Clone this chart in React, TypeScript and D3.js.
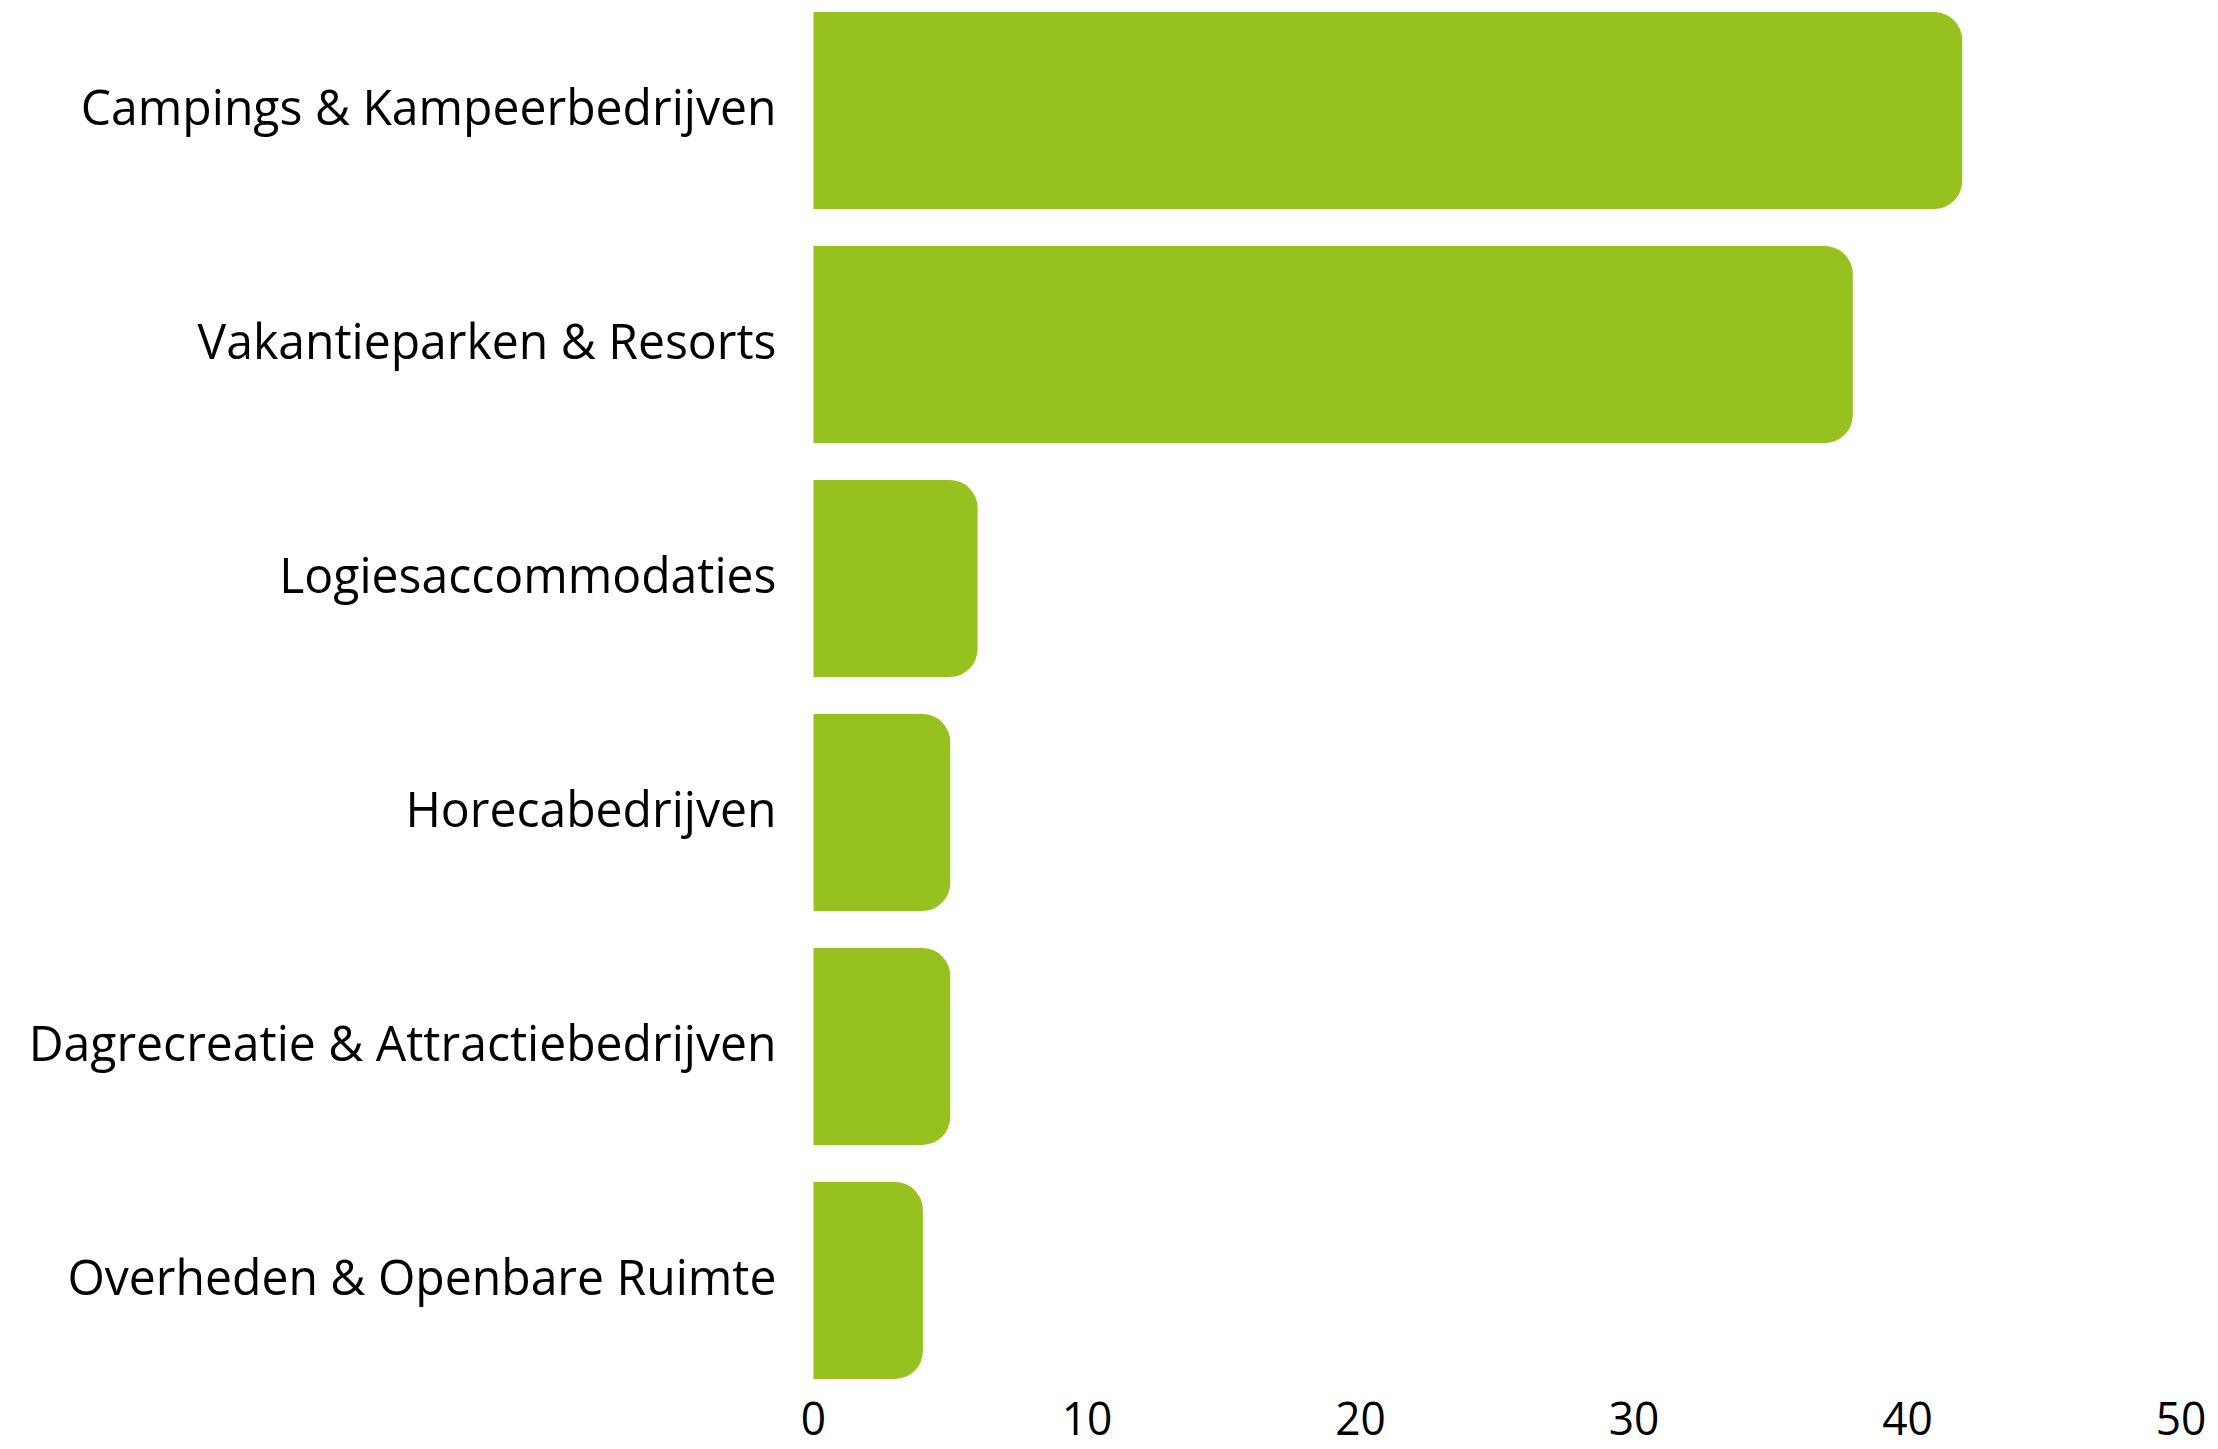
import React, { useMemo } from "react";
import * as d3 from "d3";

const categories = [
  "Campings & Kampeerbedrijven",
  "Vakantieparken & Resorts",
  "Logiesaccommodaties",
  "Horecabedrijven",
  "Dagrecreatie & Attractiebedrijven",
  "Overheden & Openbare Ruimte",
];
const values = [42, 38, 6, 5, 5, 4];
const tickValues = [0, 10, 20, 30, 40, 50];

const W = 2218;
const H = 1449;
const FONT = "'Open Sans', sans-serif";
const FS = 50;
const TICK_FS = 46;
const COLOR = "#96C11F";

function barPath(x0: number, x1: number, y0: number, y1: number, r: number) {
  const rr = Math.min(r, x1 - x0, (y1 - y0) / 2);
  const p = d3.path();
  p.moveTo(x0, y0);
  p.lineTo(x1 - rr, y0);
  p.arcTo(x1, y0, x1, y0 + rr, rr);
  p.lineTo(x1, y1 - rr);
  p.arcTo(x1, y1, x1 - rr, y1, rr);
  p.lineTo(x0, y1);
  p.closePath();
  return p.toString();
}

export default function App() {
  const x = d3.scaleLinear().domain([0, 50]).range([813.5, 2181]);
  const y = d3
    .scaleBand<string>()
    .domain(categories)
    .range([12, 1379])
    .paddingInner(0.158)
    .paddingOuter(0);

  const sx = useMemo(() => {
    try {
      const ctx = document.createElement("canvas").getContext("2d");
      if (!ctx) return 0.9;
      ctx.font = `${FS}px 'Open Sans', sans-serif`;
      const w = ctx.measureText(categories[4]).width;
      return w > 0 ? 748 / w : 0.9;
    } catch (e) {
      return 0.9;
    }
  }, []);

  return (
    <svg width={W} height={H} style={{ position: "absolute", left: 0, top: 0, background: "#fff" }}>
      <rect width={W} height={H} fill="#fff" />
      {categories.map((c, i) => {
        const y0 = y(c)!;
        const y1 = y0 + y.bandwidth();
        return (
          <g key={c}>
            <path d={barPath(x(0), x(values[i]), y0, y1, 28)} fill={COLOR} />
            <g transform={`translate(${x(0) - 37},${y0 + y.bandwidth() / 2 + 14.5}) scale(${sx},1)`}>
              <text textAnchor="end" fontFamily={FONT} fontSize={FS} fill="#000">
                {c}
              </text>
            </g>
          </g>
        );
      })}
      {tickValues.map((t) => (
        <g key={t} transform={`translate(${x(t)},1435) scale(${sx},1)`}>
          <text textAnchor="middle" fontFamily={FONT} fontSize={TICK_FS} fill="#000">
            {t}
          </text>
        </g>
      ))}
    </svg>
  );
}
